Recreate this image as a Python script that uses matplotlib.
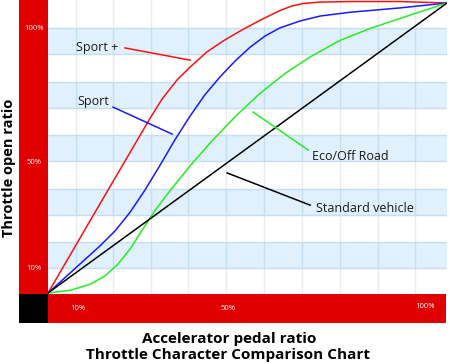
import matplotlib
matplotlib.use("Agg")
import matplotlib.pyplot as plt
from matplotlib.patches import Rectangle

plt.rcParams['font.family'] = ['Open Sans', 'DejaVu Sans']

# pedal ratio (%) vs throttle open ratio (%)
sport_plus_x = [0, 13.0, 25.6, 28.6, 32.3, 35.6, 39.8, 43.9, 48.1, 53.1, 58.1, 61.2,
                63.9, 68.2, 75.7, 88.2, 100]
sport_plus_y = [0, 30.7, 60.3, 66.9, 73.4, 77.9, 83.1, 86.9, 90.3, 94.0, 97.4, 99.0,
                99.8, 100.3, 100.5, 100.5, 100]
sport_x = [0, 13.0, 16.8, 20.6, 24.3, 28.1, 31.8, 35.6, 39.3, 43.1, 46.9, 50.6,
           54.4, 58.1, 63.2, 68.2, 75.7, 88.2, 100]
sport_y = [0, 16.2, 21.4, 27.9, 35.5, 44.1, 52.8, 61.0, 68.3, 74.5, 80.0, 84.7,
           88.6, 91.4, 93.8, 95.5, 96.8, 98.3, 100]
eco_x = [0, 5.5, 10.5, 14.3, 17.5, 20.6, 23.6, 26.8, 30.6, 35.6, 40.6, 46.9, 53.1,
         59.4, 65.7, 73.2, 80.7, 90.7, 100]
eco_y = [0, 0.9, 3.0, 5.9, 9.9, 15.2, 21.7, 28.4, 35.3, 43.8, 51.7, 60.8, 68.8,
         75.7, 81.4, 87.1, 91.2, 95.8, 100]
std_x = [0, 100]
std_y = [0, 100]

left_ticks = ["100%", "50%", "10%"]
bottom_ticks = ["10%", "50%", "100%"]

W, H = 450, 364
fig = plt.figure(figsize=(W / 100, H / 100), dpi=100)

def fx(px):
    return px / W

def fy(py):
    return 1 - py / H

ax = fig.add_axes([fx(48), fy(294), (447 - 48) / W, 294 / H])
ax.set_xlim(0, 100)
ax.set_ylim(-0.34, 101.03)
ax.axis("off")

# grid: vertical lines + light blue bands
grid_px = [76, 113, 151, 188, 226, 264, 302, 340, 378, 415]
for gx in grid_px:
    a = (gx - 48) / 399
    ax.plot([a, a], [0, 1], color="#ececec", lw=1, transform=ax.transAxes, zorder=0)
for k in range(5):
    t = 28 + 53.5 * k
    y0 = 1 - (t + 26) / 294
    y1 = 1 - t / 294
    ax.add_patch(Rectangle((0, y0), 1, y1 - y0, transform=ax.transAxes,
                           facecolor="#e0f0fc", edgecolor="none", zorder=1))
    for yy in (y0, y1):
        ax.plot([0, 1], [yy, yy], color="#c4def2", lw=1, transform=ax.transAxes, zorder=1.2)
    for gx in grid_px:
        a = (gx - 48) / 399
        ax.plot([a, a], [y0, y1], color="#c4def2", lw=1, transform=ax.transAxes, zorder=1.2)

# curves
line_kw = dict(lw=1.1, zorder=3, solid_joinstyle="round")
ax.plot(sport_plus_x, sport_plus_y, color="#ff1010", **line_kw)
ax.plot(sport_x, sport_y, color="#1a1aff", **line_kw)
ax.plot(eco_x, eco_y, color="#22ee22", **line_kw)
ax.plot(std_x, std_y, color="black", **line_kw)

# leader lines and labels
ax.plot([19.3, 35.6], [84.5, 80.3], color="#ff1010", lw=1.1, zorder=3)
ax.plot([16.3, 31.1], [64.1, 54.8], color="#1a1aff", lw=1.1, zorder=3)
ax.plot([51.4, 65.2], [62.4, 49.3], color="#22ee22", lw=1.1, zorder=3)
ax.plot([44.9, 65.7], [41.4, 30.3], color="black", lw=1.1, zorder=3)
lab_kw = dict(fontsize=9, color="#1a1a1a", va="center", ha="left", zorder=4)
ax.text(7.0, 84.5, "Sport +", **lab_kw)
ax.text(7.3, 66.2, "Sport", **lab_kw)
ax.text(66.2, 47.2, "Eco/Off Road", **lab_kw)
ax.text(67.2, 29.3, "Standard vehicle", **lab_kw)

# red frame bars
red = "#e00000"
fig.add_artist(Rectangle((fx(19), fy(294)), 29 / W, 294 / H, transform=fig.transFigure,
                         facecolor=red, edgecolor="none"))
fig.add_artist(Rectangle((fx(19), fy(323)), 29 / W, 29 / H, transform=fig.transFigure,
                         facecolor="black", edgecolor="none"))
fig.add_artist(Rectangle((fx(48), fy(323)), 398 / W, 29 / H, transform=fig.transFigure,
                         facecolor=red, edgecolor="none"))

tick_kw = dict(fontsize=5.5, color="white", ha="center", va="center")
for lab, py in zip(left_ticks, [28, 162, 269]):
    fig.text(fx(34), fy(py), lab, **tick_kw)
for lab, px, py in zip(bottom_ticks, [78, 228, 425], [309, 309, 306]):
    fig.text(fx(px), fy(py), lab, **tick_kw)

fig.text(fx(9), fy(168), "Throttle open ratio", rotation=90, fontsize=10.5,
         fontweight="bold", ha="center", va="center", color="black")
fig.text(fx(229), fy(339), "Accelerator pedal ratio", fontsize=11,
         fontweight="bold", ha="center", va="center", color="black")
fig.text(fx(228), fy(355), "Throttle Character Comparison Chart", fontsize=11,
         fontweight="bold", ha="center", va="center", color="black")

fig.savefig("out.png", dpi=100, facecolor="white")
